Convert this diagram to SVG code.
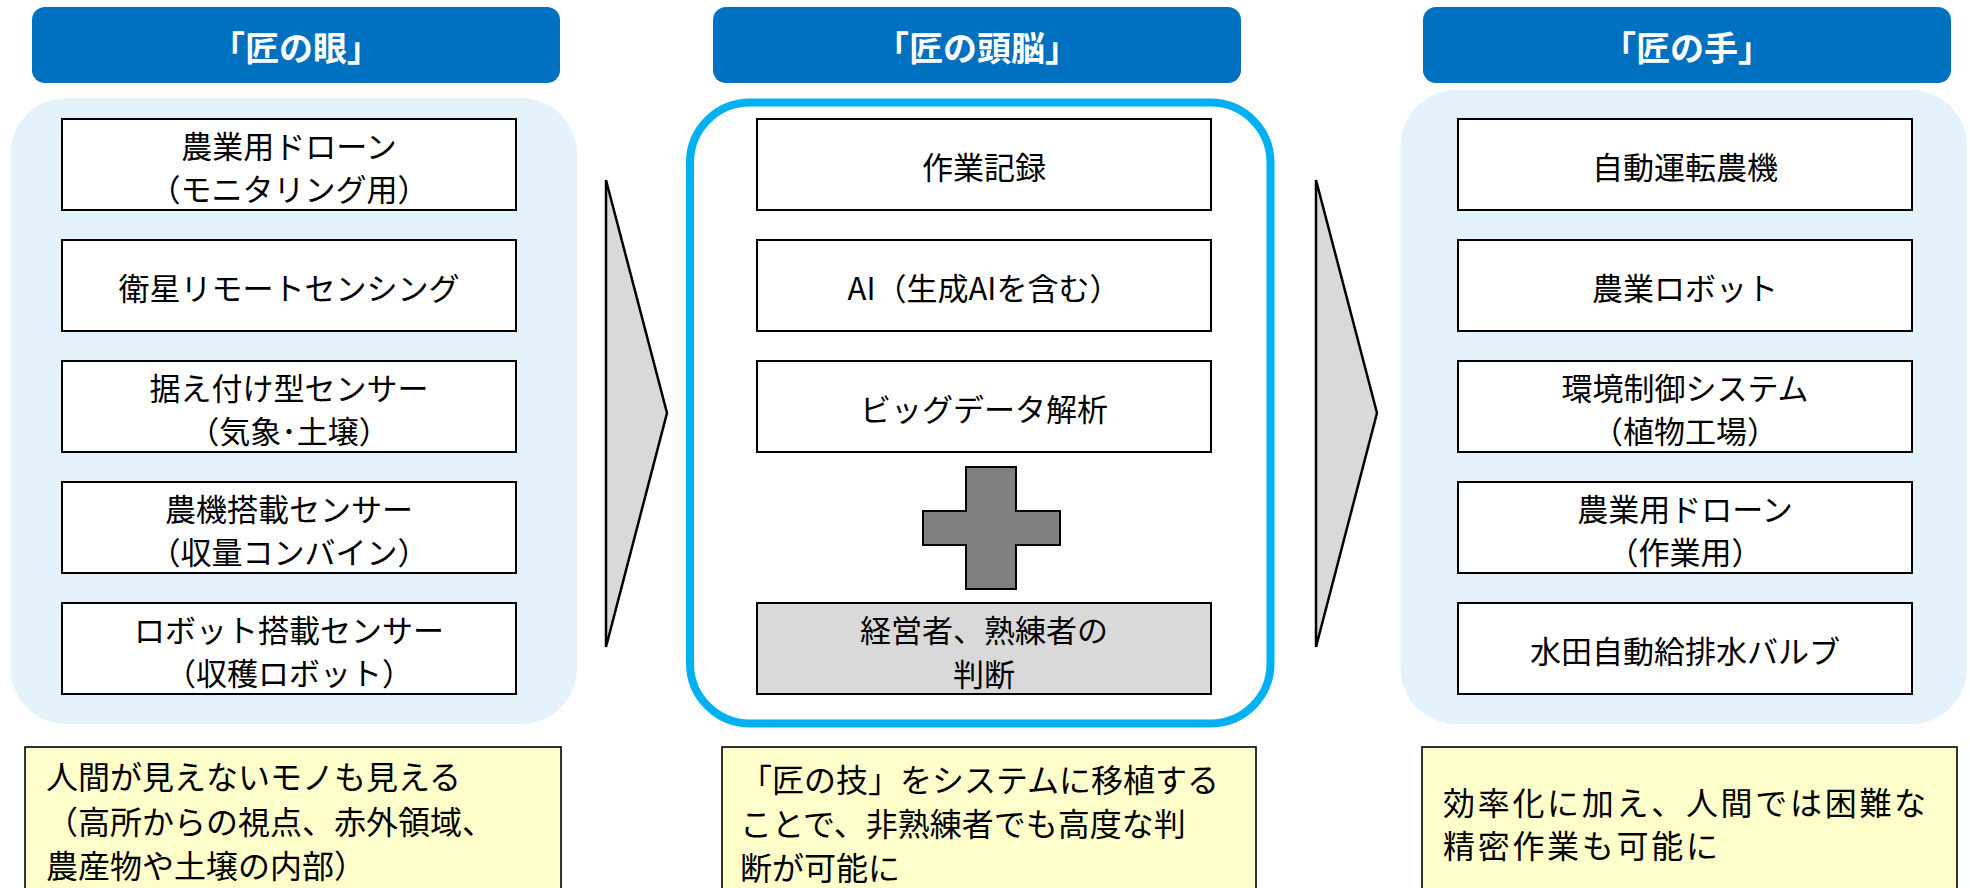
<svg xmlns="http://www.w3.org/2000/svg" width="1970" height="888" viewBox="0 0 1970 888">
<style>
text{font-family:"Noto Sans CJK JP","Noto Sans CJK SC",sans-serif;fill:#000;dominant-baseline:central}
.hdr{fill:#0070C0}
.hdrt{fill:#fff;font-weight:bold;font-size:34px;text-anchor:middle}
.panel{fill:#E4F2FC}
.box{fill:#fff;stroke:#000;stroke-width:2}
.gbox{fill:#D9D9D9;stroke:#000;stroke-width:2}
.bt{font-size:31px;text-anchor:middle}
.note{fill:#FFFFCC;stroke:#000;stroke-width:1.6}
.nt{font-size:32px}
.arrow{fill:#D9D9D9;stroke:#000;stroke-width:2.5;stroke-linejoin:miter}
</style>
<rect width="1970" height="888" fill="#fff"/>

<g id="col-eye">
<rect class="hdr" x="32" y="7" width="528" height="76" rx="13"/>
<text class="hdrt" x="296" y="46">「匠の眼」</text>
<rect class="panel" x="10.5" y="98" width="566.5" height="626" rx="56"/>
<g id="eye-1"><rect class="box" x="62" y="119" width="454" height="91"/><text class="bt" x="289" y="144">農業用ドローン</text><text class="bt" x="289" y="187">（モニタリング用）</text></g>
<g id="eye-2"><rect class="box" x="62" y="240" width="454" height="91"/><text class="bt" x="289" y="286">衛星リモートセンシング</text></g>
<g id="eye-3"><rect class="box" x="62" y="361" width="454" height="91"/><text class="bt" x="289" y="386">据え付け型センサー</text><text class="bt" x="289" y="429">（気象･土壌）</text></g>
<g id="eye-4"><rect class="box" x="62" y="482" width="454" height="91"/><text class="bt" x="289" y="507">農機搭載センサー</text><text class="bt" x="289" y="550">（収量コンバイン）</text></g>
<g id="eye-5"><rect class="box" x="62" y="603" width="454" height="91"/><text class="bt" x="289" y="628">ロボット搭載センサー</text><text class="bt" x="289" y="671">（収穫ロボット）</text></g>
<g id="eye-note"><rect class="note" x="25" y="747" width="536" height="150"/>
<text class="nt" x="46" y="775">人間が見えないモノも見える</text>
<text class="nt" x="46" y="819.5">（高所からの視点、赤外領域、</text>
<text class="nt" x="46" y="864">農産物や土壌の内部）</text></g>
</g>

<g id="col-brain">
<rect class="hdr" x="713" y="7" width="528" height="76" rx="13"/>
<text class="hdrt" x="977" y="46">「匠の頭脳」</text>
<rect x="690" y="102.5" width="580.5" height="621" rx="60" fill="#fff" stroke="#00B0F0" stroke-width="8"/>
<g id="brain-1"><rect class="box" x="757" y="119" width="454" height="91"/><text class="bt" x="984" y="165">作業記録</text></g>
<g id="brain-2"><rect class="box" x="757" y="240" width="454" height="91"/><text class="bt" x="984" y="286">AI（生成AIを含む）</text></g>
<g id="brain-3"><rect class="box" x="757" y="361" width="454" height="91"/><text class="bt" x="984" y="407">ビッグデータ解析</text></g>
<g id="plus"><polygon points="966,467 1016,467 1016,511 1060,511 1060,545 1016,545 1016,589 966,589 966,545 923,545 923,511 966,511" fill="#808080" stroke="#000" stroke-width="2"/></g>
<g id="brain-4"><rect class="gbox" x="757" y="603" width="454" height="91"/><text class="bt" x="984" y="628">経営者、熟練者の</text><text class="bt" x="984" y="672">判断</text></g>
<g id="brain-note"><rect class="note" x="722" y="747" width="534" height="150"/>
<text class="nt" x="740" y="778">「匠の技」をシステムに移植する</text>
<text class="nt" x="740" y="822">ことで、非熟練者でも高度な判</text>
<text class="nt" x="740" y="866">断が可能に</text></g>
</g>

<g id="col-hand">
<rect class="hdr" x="1423" y="7" width="528" height="76" rx="13"/>
<text class="hdrt" x="1687" y="46">「匠の手」</text>
<rect class="panel" x="1400.5" y="90" width="566.5" height="634" rx="56"/>
<g id="hand-1"><rect class="box" x="1458" y="119" width="454" height="91"/><text class="bt" x="1685" y="165">自動運転農機</text></g>
<g id="hand-2"><rect class="box" x="1458" y="240" width="454" height="91"/><text class="bt" x="1685" y="286">農業ロボット</text></g>
<g id="hand-3"><rect class="box" x="1458" y="361" width="454" height="91"/><text class="bt" x="1685" y="386">環境制御システム</text><text class="bt" x="1685" y="429">（植物工場）</text></g>
<g id="hand-4"><rect class="box" x="1458" y="482" width="454" height="91"/><text class="bt" x="1685" y="507">農業用ドローン</text><text class="bt" x="1685" y="550">（作業用）</text></g>
<g id="hand-5"><rect class="box" x="1458" y="603" width="454" height="91"/><text class="bt" x="1685" y="649">水田自動給排水バルブ</text></g>
<g id="hand-note"><rect class="note" x="1422" y="747" width="535" height="150"/>
<text class="nt" x="1443" y="801" letter-spacing="2.7">効率化に加え、人間では困難な</text>
<text class="nt" x="1443" y="844" letter-spacing="2.7">精密作業も可能に</text></g>
</g>

<g id="connectors">
<polygon class="arrow" points="606,180 667,413 606,647"/>
<polygon class="arrow" points="1316,180 1377,413 1316,647"/>
</g>
</svg>
